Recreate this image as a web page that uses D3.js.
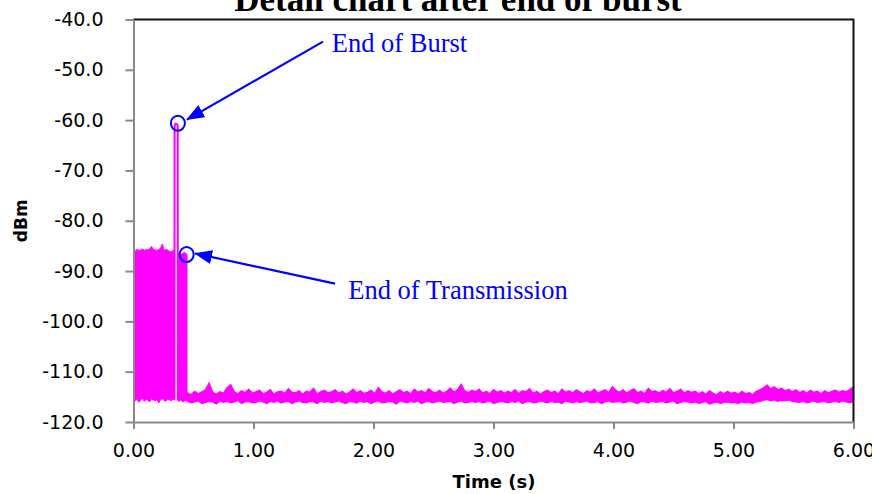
<!DOCTYPE html>
<html><head><meta charset="utf-8">
<script src="https://cdn.jsdelivr.net/npm/d3@7"></script>
<style>body{margin:0;background:#fff} svg{display:block}</style>
</head><body>
<svg id="chart" width="872" height="494"></svg>
<script>
// ---------- data ----------
const titleText = "Detail chart after end of burst";
const xLabel = "Time (s)";
const yLabel = "dBm";
const xTicks = [0, 1, 2, 3, 4, 5, 6];
const yTicks = [-40, -50, -60, -70, -80, -90, -100, -110, -120];

// dense burst before the event (envelope of samples)
const burstTimes = [0,0.015,0.03,0.045,0.06,0.075,0.09,0.105,0.12,0.135,0.15,0.165,0.18,0.195,0.21,0.225,0.24,0.255,0.27,0.285,0.30,0.315,0.33,0.341];
const burstMax = [-85.8,-86.0,-85.7,-85.9,-85.8,-85.6,-85.9,-85.7,-85.8,-85.6,-85.1,-85.7,-85.8,-85.9,-85.7,-85.5,-84.6,-85.9,-85.7,-85.8,-86.1,-86.2,-85.9,-86.0];
const burstMin = [-115.4,-115.8,-115.5,-116.1,-115.6,-115.3,-115.9,-115.5,-115.7,-116.0,-115.4,-115.6,-115.8,-115.5,-116.2,-115.6,-115.4,-115.7,-115.9,-115.5,-115.6,-115.8,-115.4,-115.6];

// end-of-burst spike
const spikeTimes = [0.341, 0.3425, 0.35, 0.36, 0.3685, 0.370];
const spikeValues = [-115.6, -61.2, -60.7, -60.8, -61.0, -115.6];

// transmission tail after spike
const tailTimes = [0.366, 0.38, 0.395, 0.41, 0.425, 0.44, 0.446];
const tailMax = [-86.6, -86.4, -86.7, -86.5, -86.3, -86.6, -86.7];
const tailMin = [-115.7, -115.9, -115.6, -116.0, -115.8, -115.7, -115.9];

// noise floor (envelope per 0.03 s bin, starting at 0.45 s)
const noiseStart = 0.45, noiseStep = 0.03;
const noiseMax = [
-114.2,-114.6,-113.9,-114.4,-114.0,-113.6,-112.3,-114.1,-114.5,-114.0,
-114.3,-113.2,-112.6,-114.0,-114.4,-113.8,-114.2,-113.5,-114.3,-114.0,
-113.7,-114.4,-114.1,-113.6,-114.5,-114.0,-113.9,-114.3,-113.4,-114.1,
-114.2,-113.8,-114.5,-113.9,-114.1,-113.3,-114.4,-114.0,-113.7,-114.2,
-114.0,-113.6,-114.3,-113.9,-114.5,-114.1,-113.5,-114.2,-113.8,-114.3,
-114.1,-113.7,-114.4,-113.2,-114.0,-114.3,-113.8,-114.5,-114.0,-113.6,
-114.2,-113.9,-114.4,-113.5,-114.1,-113.8,-114.3,-113.4,-114.0,-114.2,
-113.7,-114.3,-113.9,-113.3,-114.1,-113.6,-112.5,-113.8,-114.2,-113.7,
-114.0,-113.5,-114.3,-113.9,-114.4,-113.6,-114.1,-113.8,-114.3,-113.9,
-114.2,-113.6,-114.4,-113.8,-114.0,-113.4,-114.3,-113.9,-114.5,-114.0,
-113.7,-114.2,-113.9,-114.4,-113.5,-114.1,-113.8,-114.3,-113.6,-114.0,
-114.4,-113.8,-114.1,-113.5,-114.3,-113.9,-113.6,-114.2,-113.0,-113.7,
-114.1,-113.6,-114.3,-113.8,-113.4,-114.2,-113.9,-114.4,-113.3,-114.0,
-113.8,-114.3,-113.7,-114.1,-113.4,-114.2,-113.9,-113.5,-114.3,-113.8,
-114.1,-113.9,-114.4,-114.0,-114.5,-113.8,-114.3,-114.6,-114.0,-114.4,
-113.9,-114.3,-114.1,-114.5,-113.9,-114.4,-114.2,-114.6,-113.9,-113.6,
-113.2,-112.7,-113.4,-113.0,-113.6,-113.3,-113.8,-113.5,-114.0,-113.6,
-114.2,-113.8,-114.3,-113.7,-114.1,-113.9,-114.4,-113.8,-114.2,-113.9,
-113.7,-114.1,-113.8,-114.0,-113.5,-113.0];
const noiseMin = [
-115.9,-116.2,-116.0,-115.8,-116.3,-116.1,-115.9,-116.0,-116.4,-115.8,
-116.1,-115.9,-116.2,-116.0,-115.7,-116.3,-116.0,-115.9,-116.2,-116.1,
-115.8,-116.0,-116.3,-115.9,-116.1,-115.8,-116.2,-116.0,-115.9,-116.3,
-116.0,-115.8,-116.1,-116.2,-115.9,-116.0,-116.3,-115.8,-116.1,-115.9,
-116.2,-116.0,-115.8,-116.1,-116.3,-115.9,-116.0,-116.2,-115.8,-116.1,
-115.9,-116.3,-116.0,-115.8,-116.2,-116.1,-115.9,-116.0,-116.4,-115.8,
-116.0,-116.2,-115.9,-116.1,-115.8,-116.3,-116.0,-115.9,-116.2,-116.0,
-115.8,-116.1,-116.0,-115.9,-116.3,-116.0,-115.8,-116.2,-116.1,-115.9,
-116.1,-115.9,-116.2,-116.0,-115.8,-116.3,-116.1,-115.9,-116.0,-116.2,
-115.9,-116.1,-115.8,-116.3,-116.0,-115.9,-116.2,-116.1,-115.8,-116.0,
-116.2,-115.9,-116.1,-116.0,-116.3,-115.8,-116.0,-116.2,-115.9,-116.1,
-116.0,-115.8,-116.2,-116.1,-115.9,-116.3,-116.0,-115.8,-116.1,-116.0,
-115.9,-116.2,-116.0,-115.8,-116.1,-116.3,-115.9,-116.0,-116.2,-115.8,
-116.1,-116.0,-115.9,-116.2,-116.0,-115.8,-116.3,-116.1,-115.9,-116.0,
-116.2,-116.0,-116.3,-116.1,-115.9,-116.4,-116.2,-116.0,-116.3,-116.1,
-116.0,-116.2,-116.1,-116.3,-116.0,-116.2,-116.1,-116.3,-116.0,-115.9,
-115.7,-115.5,-115.8,-115.6,-115.9,-115.7,-115.8,-115.6,-115.9,-116.0,
-116.1,-115.9,-116.2,-116.0,-115.8,-116.1,-116.0,-115.9,-116.2,-116.0,
-115.9,-116.1,-115.8,-116.0,-116.2,-115.9];

// annotations (data coordinates)
const annoLabels = ["End of Burst", "End of Transmission"];
const annoCircleT = [0.37, 0.443];
const annoCircleV = [-60.6, -86.7];
const annoTipT = [0.446, 0.5125];
const annoTipV = [-59.9, -86.5];
const annoTailT = [1.579, 1.679];
const annoTailV = [-44.4, -92.5];
const annoTextT = [1.652, 1.79];
const annoTextV = [-46.4, -95.5];

// ---------- drawing ----------
const svg = d3.select("#chart");
const x = d3.scaleLinear().domain([0, 6]).range([133.5, 853.5]);
const y = d3.scaleLinear().domain([-120, -40]).range([422, 19.5]);
const MAG = "#ff00ff", BLUE = "#0000ff", GRAY = "#898989";

// title (partially cut off at top, as in the source)
svg.append("text").attr("x", 458).attr("y", 11).attr("text-anchor", "middle")
  .style("font", "bold 35px 'Liberation Serif', serif").attr("fill", "#000").text(titleText);

// data
const area = d3.area().x(d => x(d.t)).y0(d => y(d.lo)).y1(d => y(d.hi));
const burst = burstTimes.map((t, i) => ({t, hi: burstMax[i], lo: burstMin[i]}));
const tail = tailTimes.map((t, i) => ({t, hi: tailMax[i], lo: tailMin[i]}));
const noise = noiseMax.map((hi, i) => ({t: noiseStart + i * noiseStep, hi, lo: noiseMin[i]}));
[[burst, 1], [tail, 1], [noise, 1.4]].forEach(([ds, w]) => {
  svg.append("path").datum(ds).attr("d", area)
    .attr("fill", MAG).attr("stroke", MAG).attr("stroke-width", w).attr("stroke-linejoin", "miter");
});
svg.append("path").datum(spikeTimes.map((t, i) => ({t, v: spikeValues[i]})))
  .attr("d", d3.line().x(d => x(d.t)).y(d => y(d.v)))
  .attr("fill", "none").attr("stroke", MAG).attr("stroke-width", 2).attr("stroke-linejoin", "round");

// frame (top & right)
svg.append("path").attr("d", `M${x(0)},${y(-40)}H${x(6)}V${y(-120)}`)
  .attr("fill", "none").attr("stroke", "#111").attr("stroke-width", 2);

// axes
const tickFont = "19px 'DejaVu Sans', sans-serif";
const gx = svg.append("g").attr("transform", `translate(0,${y(-120)})`)
  .call(d3.axisBottom(x).tickValues(xTicks).tickFormat(d => d.toFixed(2)).tickSize(7).tickPadding(15).tickSizeOuter(0));
const gy = svg.append("g").attr("transform", `translate(${x(0)},0)`)
  .call(d3.axisLeft(y).tickValues(yTicks).tickFormat(d => d.toFixed(1)).tickSize(8).tickPadding(22).tickSizeOuter(0));
[gx, gy].forEach(g => {
  g.select(".domain").attr("stroke", GRAY).attr("stroke-width", 2);
  g.selectAll(".tick line").attr("stroke", GRAY).attr("stroke-width", 2);
  g.selectAll(".tick text").style("font", tickFont).attr("fill", "#000");
});

// axis titles
svg.append("text").attr("x", 494).attr("y", 488).attr("text-anchor", "middle")
  .style("font", "bold 18px 'DejaVu Sans', sans-serif").text(xLabel);
svg.append("text").attr("transform", `translate(27,${(y(-40) + y(-120)) / 2}) rotate(-90)`)
  .attr("text-anchor", "middle").style("font", "bold 17px 'DejaVu Sans', sans-serif").text(yLabel);

// annotations
const defs = svg.append("defs");
defs.append("marker").attr("id", "arr").attr("viewBox", "0 0 18 14")
  .attr("refX", 17).attr("refY", 7).attr("markerWidth", 18).attr("markerHeight", 14)
  .attr("markerUnits", "userSpaceOnUse").attr("orient", "auto")
  .append("path").attr("d", "M0,0L18,7L0,14Z").attr("fill", BLUE);
annoLabels.forEach((lab, i) => {
  svg.append("ellipse").attr("cx", x(annoCircleT[i])).attr("cy", y(annoCircleV[i]))
    .attr("rx", 7).attr("ry", 7.5).attr("fill", "none").attr("stroke", BLUE).attr("stroke-width", 2);
  svg.append("line").attr("x1", x(annoTailT[i])).attr("y1", y(annoTailV[i]))
    .attr("x2", x(annoTipT[i])).attr("y2", y(annoTipV[i]))
    .attr("stroke", BLUE).attr("stroke-width", 2.2).attr("marker-end", "url(#arr)");
  svg.append("text").attr("x", x(annoTextT[i])).attr("y", y(annoTextV[i]))
    .style("font", "26.5px 'Liberation Serif', serif").attr("fill", BLUE).text(lab);
});
</script>
</body></html>
